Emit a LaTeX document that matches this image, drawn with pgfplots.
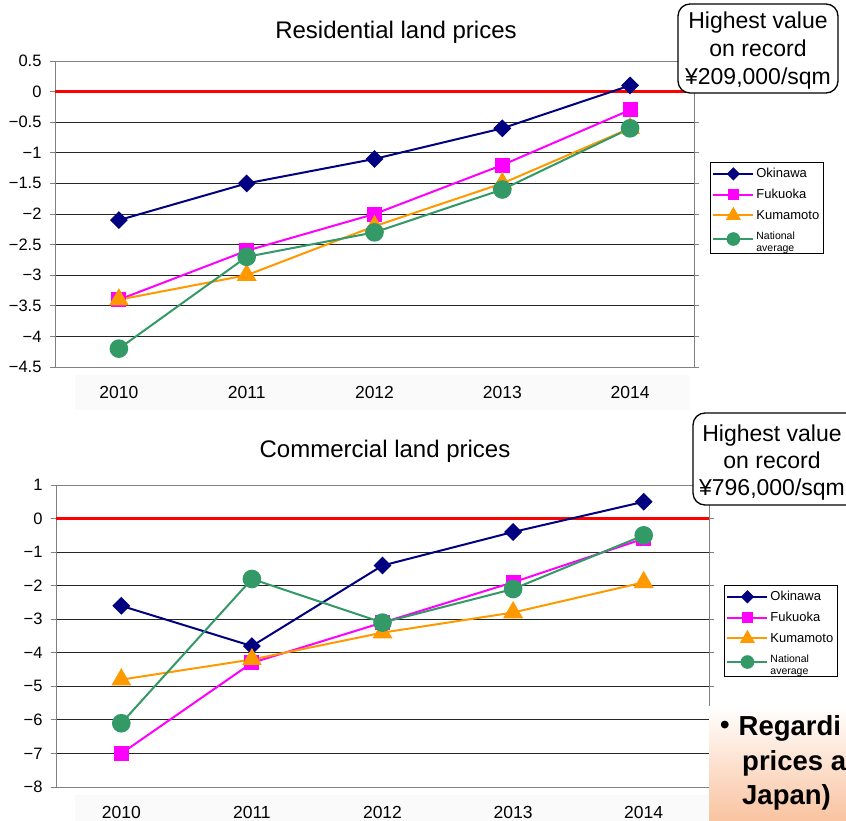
\documentclass[border=0pt]{standalone}
\usepackage{pgfplots}
\pgfplotsset{compat=1.18}
\usepackage{fontspec}
\setmainfont{Liberation Sans}
\newfontfamily\cjk{Noto Sans CJK JP}
\definecolor{okin}{HTML}{000080}
\definecolor{fuku}{HTML}{FF00FF}
\definecolor{kuma}{HTML}{FF9900}
\definecolor{natl}{HTML}{339966}
\definecolor{peach}{HTML}{F9C3A0}
\newcommand{\fs}[1]{\fontsize{#1}{#1}\selectfont}
\newcommand{\natavg}{{\fontsize{10.5}{12.5}\selectfont
  \begin{tabular}{@{}l@{}}National\\average\end{tabular}}}

\pgfplotsset{
  landprices/.style={
    scale only axis,
    xmin=-0.5, xmax=4.5,
    xtick={0,...,4},
    xticklabels={2010,2011,2012,2013,2014},
    axis line style={black!50, line width=0.9pt},
    ymajorgrids,
    grid style={black!85, line width=0.8pt},
    tick align=outside,
    major tick length=5pt,
    xtick style={draw=none},
    ytick style={black!50, line width=0.8pt},
    yticklabel style={font=\fs{16.5}, xshift=-5pt},
    xticklabel style={font=\fs{17.5}, yshift=-11pt},
    legend cell align=left,
    legend style={draw=black, line width=0.8pt, font=\fs{13},
      row sep=6pt, inner ysep=4pt, inner xsep=2pt, fill=white},
    legend image code/.code={\draw[mark repeat=2,mark phase=2,#1,
      every mark/.append style={scale=0.7}]
      plot coordinates {(0pt,0pt) (20pt,0pt) (40pt,0pt)};},
  },
  sOkin/.style={okin, line width=2pt, mark=square*, mark size=5.3pt,
    mark options={rotate=45, solid}},
  sFuku/.style={fuku, line width=2pt, mark=square*, mark size=6.5pt},
  sKuma/.style={kuma, line width=2pt, mark=triangle*, mark size=9.5pt},
  sNatl/.style={natl, line width=2pt, mark=*, mark size=8.3pt},
}

\begin{document}
\begin{tikzpicture}
\useasboundingbox (0,0) rectangle (846pt,-821pt);
\clip (0,0) rectangle (846pt,-821pt);
\fill[white] (0,0) rectangle (846pt,-821pt);
\fill[black!2] (75pt,-375pt) rectangle (690pt,-410pt);
\fill[black!2] (75pt,-795pt) rectangle (708pt,-821pt);

% ---- residential
\node[font=\fs{24}] at (396pt,-32pt) {Residential land prices};
\begin{axis}[landprices,
  at={(55pt,-367pt)}, anchor=south west,
  width=639pt, height=306pt,
  ymin=-4.5, ymax=0.5,
  ytick={-4.5,-4,...,0.5},
  yticklabels={−4.5,−4,−3.5,−3,−2.5,−2,−1.5,−1,−0.5,0,0.5},
  legend style={at={(1.025,0.670)}, anchor=north west},
]
\addplot[red, line width=2.8pt, forget plot] coordinates {(-0.5,0) (4.5,0)};
\addplot[sOkin] coordinates {(0,-2.1) (1,-1.5) (2,-1.1) (3,-0.6) (4,0.1)};
\addplot[sFuku] coordinates {(0,-3.4) (1,-2.6) (2,-2.0) (3,-1.2) (4,-0.3)};
\addplot[sKuma] coordinates {(0,-3.4) (1,-3.0) (2,-2.2) (3,-1.5) (4,-0.6)};
\addplot[sNatl] coordinates {(0,-4.2) (1,-2.7) (2,-2.3) (3,-1.6) (4,-0.6)};
\legend{Okinawa, Fukuoka, Kumamoto, \natavg}
\end{axis}

% ---- commercial
\node[font=\fs{24}] at (385pt,-451pt) {Commercial land prices};
\begin{axis}[landprices,
  at={(56pt,-787pt)}, anchor=south west,
  width=653pt, height=302pt,
  ymin=-8, ymax=1,
  ytick={-8,...,1},
  yticklabels={−8,−7,−6,−5,−4,−3,−2,−1,0,1},
  legend style={at={(1.023,0.669)}, anchor=north west},
]
\addplot[red, line width=2.8pt, forget plot] coordinates {(-0.5,0) (4.5,0)};
\addplot[sOkin] coordinates {(0,-2.6) (1,-3.8) (2,-1.4) (3,-0.4) (4,0.5)};
\addplot[sFuku] coordinates {(0,-7.0) (1,-4.3) (2,-3.1) (3,-1.9) (4,-0.6)};
\addplot[sKuma] coordinates {(0,-4.8) (1,-4.2) (2,-3.4) (3,-2.8) (4,-1.9)};
\addplot[sNatl] coordinates {(0,-6.1) (1,-1.8) (2,-3.1) (3,-2.1) (4,-0.5)};
\legend{Okinawa, Fukuoka, Kumamoto, \natavg}
\end{axis}

% ---- call-outs
\draw[rounded corners=12pt, line width=1.3pt, fill=white]
  (678pt,-4pt) rectangle (838pt,-93pt);
\node[font=\fs{23}, align=center, inner sep=0pt] at (758pt,-51pt)
  {Highest value\\[5pt] on record\\[5pt] ¥209,000/sqm};
\draw[rounded corners=12pt, line width=1.3pt, fill=white]
  (693pt,-413pt) rectangle (870pt,-505pt);
\node[font=\fs{23}, align=center, inner sep=0pt] at (772pt,-463pt)
  {Highest value\\[4pt] on record\\[4pt] ¥796,000/sqm};

\shade[top color=white, bottom color=peach] (709pt,-706pt) rectangle (860pt,-821pt);
\node[anchor=west, font=\bfseries\fs{27.5}, inner sep=0pt] at (711pt,-728pt)
  {{\cjk ・}Regardi};
\node[anchor=west, font=\bfseries\fs{27.5}, inner sep=0pt] at (742pt,-763pt) {prices a};
\node[anchor=west, font=\bfseries\fs{27.5}, inner sep=0pt] at (742pt,-797pt) {Japan)};
\end{tikzpicture}
\end{document}
